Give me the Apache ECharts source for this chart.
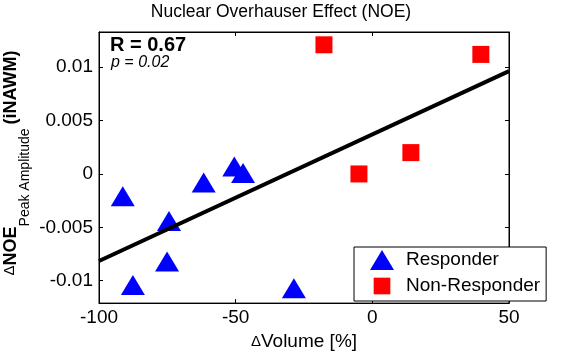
<!DOCTYPE html>
<html>
<head>
<meta charset="utf-8">
<script src="https://cdn.jsdelivr.net/npm/echarts@6/dist/echarts.min.js"></script>
<style>
  html, body { margin: 0; padding: 0; background: #fff; }
  #chart { width: 562px; height: 356px; }
</style>
</head>
<body>
<div id="chart"></div>
<script>
// data
const respX = [-91.3, -87.6, -74.4, -75.1, -61.7, -50.5, -47.3, -28.7]
const respY = [-0.0021, -0.0104, -0.0044, -0.0082, -0.0008, 0.0007, 0.0001, -0.0107]
const nonX = [-17.7, 39.7, -4.9, 14.1]
const nonY = [0.0121, 0.0112, 0.0000, 0.0020]
// regression line end points
const fitX = [-100, 50]
const fitY = [-0.00815, 0.00963]
const xTicks = [-100, -50, 0, 50]
const yTicks = [-0.01, -0.005, 0, 0.005, 0.01]

const font = "'Liberation Sans', Arial, sans-serif"
const zip = (xs, ys) => xs.map((x, i) => [x, ys[i]])

const myChart = echarts.init(document.getElementById('chart'))

const xBase = {
  type: 'value',
  min: xTicks[0],
  max: xTicks[xTicks.length - 1],
  interval: 50,
  splitLine: { show: false },
  axisLine: { onZero: false, lineStyle: { color: '#000', width: 1 } },
  axisTick: { inside: true, length: 4, lineStyle: { color: '#000' } }
}
const yBase = {
  type: 'value',
  min: -0.0121,
  max: 0.0133,
  splitNumber: 5,
  splitLine: { show: false },
  axisLine: { show: true, onZero: false, lineStyle: { color: '#000', width: 1 } },
  axisTick: { show: true, inside: true, length: 4, lineStyle: { color: '#000' } }
}

const options = {
  animation: false,
  backgroundColor: '#fff',
  title: {
    text: 'Nuclear Overhauser Effect (NOE)',
    left: 'center',
    top: 3,
    padding: 0,
    textStyle: { fontSize: 17.5, fontWeight: 'normal', color: '#000', fontFamily: font }
  },
  grid: {
    left: 99, right: 53, top: 32, bottom: 49,
    show: true, borderColor: '#000', borderWidth: 1, backgroundColor: '#fff'
  },
  xAxis: [
    Object.assign({}, xBase, {
      position: 'bottom',
      name: '{d|Δ}Volume [%]',
      nameLocation: 'middle',
      nameGap: 26,
      nameTextStyle: {
        fontSize: 19, color: '#000', fontFamily: font,
        rich: { d: { fontSize: 15, color: '#000', fontFamily: font } }
      },
      axisLabel: { fontSize: 19, color: '#000', fontFamily: font, margin: 5 }
    }),
    Object.assign({}, xBase, { position: 'top', axisLabel: { show: false } })
  ],
  yAxis: [
    Object.assign({}, yBase, {
      position: 'left',
      axisLabel: {
        fontSize: 19, color: '#000', fontFamily: font, margin: 6,
        showMinLabel: false, showMaxLabel: false,
        formatter: v => yTicks.some(t => Math.abs(t - v) < 1e-9) ? String(parseFloat(v.toFixed(4))) : ''
      }
    }),
    Object.assign({}, yBase, { position: 'right', axisLabel: { show: false } })
  ],
  legend: {
    orient: 'vertical',
    left: 354,
    top: 247,
    padding: [3, 6, 5, 16],
    itemWidth: 24,
    itemHeight: 20,
    itemGap: 6,
    backgroundColor: '#fff',
    borderColor: '#000',
    borderWidth: 1,
    borderRadius: 0,
    data: [
      { name: 'Responder', icon: 'triangle' },
      { name: 'Non-Responder', icon: 'path://M0,0H10V10H0Z M-1,-1L-1,-1 M11,11L11,11' }
    ],
    textStyle: { fontSize: 19, lineHeight: 20, color: '#000', fontFamily: font, padding: [0, 0, 0, 7] }
  },
  graphic: [
    {
      type: 'text', x: 110, y: 45, z: 100,
      style: { text: 'R = 0.67', fontSize: 20, fontWeight: 'bold', fontFamily: font, fill: '#000', verticalAlign: 'middle' }
    },
    {
      type: 'text', x: 111, y: 63, z: 100,
      style: { text: 'p = 0.02', fontSize: 16, fontStyle: 'italic', fontFamily: font, fill: '#000', verticalAlign: 'middle' }
    },
    {
      type: 'text', x: 17.5, y: 163, rotation: Math.PI / 2,
      style: {
        text: '{d|Δ}{m|NOE}{s|Peak Amplitude}{sp| }{m|(iNAWM)}',
        align: 'center',
        verticalAlign: 'middle',
        fill: '#000',
        fontFamily: font,
        rich: {
          d: { fontSize: 15, lineHeight: 19, verticalAlign: 'top', fontFamily: font, fill: '#000' },
          m: { fontSize: 18, fontWeight: 'bold', lineHeight: 19, verticalAlign: 'top', fontFamily: font, fill: '#000' },
          s: { fontSize: 14, lineHeight: 14, verticalAlign: 'bottom', fontFamily: font, fill: '#000' },
          sp: { fontSize: 14, lineHeight: 30, fontFamily: font }
        }
      }
    }
  ],
  series: [
    {
      name: 'Responder',
      type: 'scatter',
      symbol: 'triangle',
      symbolSize: [24, 20],
      itemStyle: { color: '#0000ff', opacity: 1 },
      data: zip(respX, respY),
      z: 2
    },
    {
      name: 'Non-Responder',
      type: 'scatter',
      symbol: 'rect',
      symbolSize: 17,
      itemStyle: { color: '#ff0000', opacity: 1 },
      data: zip(nonX, nonY),
      z: 2
    },
    {
      name: 'fit',
      type: 'line',
      data: zip(fitX, fitY),
      symbol: 'none',
      silent: true,
      lineStyle: { color: '#000', width: 4 },
      z: 3
    }
  ]
}
myChart.setOption(options)
</script>
</body>
</html>
